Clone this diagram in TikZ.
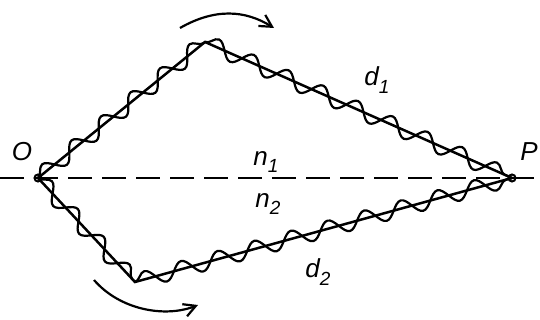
\documentclass[tikz,border=0pt]{standalone}
\usepackage{fontspec}
\setmainfont{Liberation Sans}
\usetikzlibrary{decorations.pathmorphing,arrows.meta}
\begin{document}
\begin{tikzpicture}[x=1pt,y=-1pt,
  ray/.style={line width=2.5pt},
  wave/.style={line width=2.2pt,decorate,decoration={snake,segment length=38,amplitude=8}},
  lbl/.style={font=\fontsize{26}{30}\selectfont\itshape,inner sep=0pt},
  turn/.style={line width=2.2pt,-{Straight Barb[length=12pt,width=13pt]}}]
\newcommand{\sbs}[1]{\raisebox{-0.3em}{\fontsize{19}{22}\selectfont #1}}
\useasboundingbox (0,0) rectangle (540,320);
\coordinate (O) at (38,178);
\coordinate (P) at (512,178);
\coordinate (T) at (205,42);
\coordinate (B) at (135,282);
\draw[line width=2.2pt,dash pattern=on 24pt off 10pt] (0,178) -- (540,178);
\draw[ray] (O) -- (T) -- (P);
\draw[ray] (O) -- (B) -- (P);
\draw[wave] (O) -- (T);
\draw[wave] (T) -- (P);
\draw[wave] (O) -- (B);
\draw[wave] (B) -- (P);
\draw[line width=2pt] (O) circle (3.5);
\draw[line width=2pt] (P) circle (3.5);
\node[lbl] (lO) at (22,152) {O};
\node[lbl] (lP) at (529,152) {P};
\node[lbl] (n1) at (266,162) {n\sbs{1}};
\node[lbl] (n2) at (268,204) {n\sbs{2}};
\node[lbl] (d1) at (377,80) {d\sbs{1}};
\node[lbl] (d2) at (318,272) {d\sbs{2}};
\coordinate (a1) at (180,28);
\coordinate (a2) at (274,28);
\draw[turn] (a1) .. controls (215,8) and (245,10) .. (a2);
\coordinate (b1) at (94,280);
\coordinate (b2) at (198,305);
\draw[turn] (b1) .. controls (120,310) and (165,318) .. (b2);
\end{tikzpicture}
\end{document}
